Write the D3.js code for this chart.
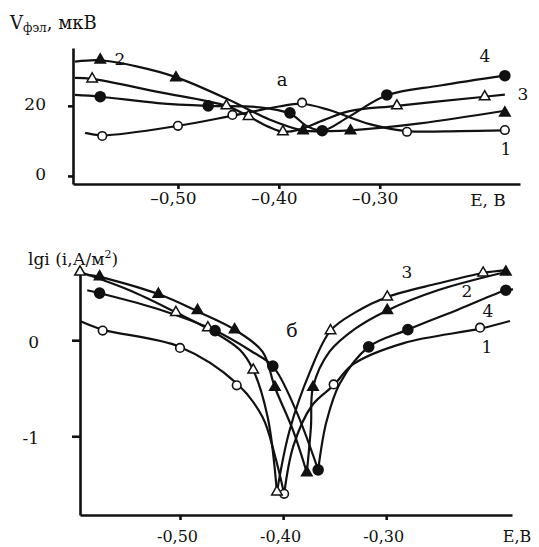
<!DOCTYPE html>
<html>
<head>
<meta charset="utf-8">
<script src="https://cdn.jsdelivr.net/npm/d3@7"></script>
<style>
  body { margin: 0; background: #fff; }
  svg text { font-family: "DejaVu Serif", "Liberation Serif", serif; fill: #111; }
  .axis path, .axis line { stroke: #111; stroke-width: 2.6; }
  .curve { fill: none; stroke: #111; stroke-width: 2.2; }
</style>
</head>
<body>
<svg width="539" height="547"></svg>
<script>
// panel a: photo-EMF V (mkV) vs E (V)
const topCurve1 = [[-0.592,12.3],[-0.575,11.6],[-0.50,14.3],[-0.446,17.2],[-0.40,19.8],[-0.377,20.6],[-0.35,18.8],[-0.31,14.8],[-0.273,12.8],[-0.22,12.8],[-0.176,13.0]];
const topMarks1 = [[-0.575,11.4],[-0.50,14.3],[-0.446,17.4],[-0.377,20.9],[-0.273,12.6],[-0.176,13.1]];
const topCurve2 = [[-0.602,32.6],[-0.577,33.0],[-0.54,31.2],[-0.502,28.2],[-0.45,21.8],[-0.41,16.2],[-0.376,13.0],[-0.35,12.8],[-0.329,13.0],[-0.26,15.0],[-0.176,18.6]];
const topMarks2 = [[-0.577,33.1],[-0.502,28.0],[-0.376,12.9],[-0.329,12.9],[-0.176,18.0]];
const topCurve3 = [[-0.602,28.0],[-0.585,27.7],[-0.52,24.0],[-0.452,20.0],[-0.43,17.0],[-0.41,14.0],[-0.396,12.6],[-0.38,13.2],[-0.355,16.0],[-0.33,18.5],[-0.283,20.0],[-0.196,22.6],[-0.176,23.2]];
const topMarks3 = [[-0.585,27.7],[-0.452,20.0],[-0.43,17.0],[-0.396,12.6],[-0.283,20.0],[-0.196,22.6]];
const topCurve4 = [[-0.602,23.1],[-0.577,22.6],[-0.52,20.8],[-0.47,20.0],[-0.42,19.6],[-0.389,17.8],[-0.372,14.2],[-0.357,12.9],[-0.33,17.0],[-0.293,23.0],[-0.24,25.8],[-0.176,28.6]];
const topMarks4 = [[-0.577,22.6],[-0.47,20.0],[-0.389,18.0],[-0.357,12.9],[-0.293,23.1],[-0.176,28.6]];

// panel b: lg i vs E (V)
const botCurve1 = [[-0.597,0.20],[-0.575,0.11],[-0.50,-0.07],[-0.445,-0.45],[-0.42,-0.80],[-0.408,-1.20],[-0.399,-1.60],[-0.39,-1.10],[-0.372,-0.68],[-0.351,-0.47],[-0.332,-0.25],[-0.283,-0.03],[-0.209,0.12],[-0.18,0.20]];
const botMarks1 = [[-0.575,0.10],[-0.50,-0.08],[-0.445,-0.47],[-0.399,-1.60],[-0.351,-0.46],[-0.209,0.13]];
const botCurve2 = [[-0.590,0.68],[-0.578,0.66],[-0.521,0.48],[-0.483,0.30],[-0.447,0.11],[-0.42,-0.12],[-0.408,-0.49],[-0.39,-0.95],[-0.377,-1.38],[-0.373,-0.90],[-0.371,-0.49],[-0.355,-0.12],[-0.33,0.12],[-0.299,0.31],[-0.25,0.52],[-0.184,0.71]];
const botMarks2 = [[-0.578,0.66],[-0.521,0.48],[-0.483,0.31],[-0.447,0.11],[-0.408,-0.49],[-0.377,-1.38],[-0.371,-0.49],[-0.299,0.31],[-0.184,0.71]];
const botCurve3 = [[-0.597,0.71],[-0.549,0.52],[-0.504,0.29],[-0.473,0.12],[-0.442,-0.10],[-0.429,-0.31],[-0.415,-0.80],[-0.406,-1.58],[-0.394,-0.95],[-0.374,-0.33],[-0.354,0.10],[-0.33,0.29],[-0.299,0.45],[-0.25,0.59],[-0.206,0.70],[-0.184,0.73]];
const botMarks3 = [[-0.597,0.71],[-0.504,0.29],[-0.473,0.13],[-0.429,-0.31],[-0.406,-1.58],[-0.354,0.10],[-0.299,0.45],[-0.206,0.70]];
const botCurve4 = [[-0.590,0.52],[-0.578,0.49],[-0.52,0.32],[-0.466,0.10],[-0.43,-0.12],[-0.410,-0.27],[-0.388,-0.72],[-0.366,-1.35],[-0.358,-0.85],[-0.345,-0.45],[-0.317,-0.07],[-0.279,0.11],[-0.23,0.32],[-0.184,0.52],[-0.177,0.53]];
const botMarks4 = [[-0.578,0.49],[-0.466,0.10],[-0.410,-0.27],[-0.366,-1.35],[-0.317,-0.07],[-0.279,0.11],[-0.184,0.52]];

const topXTicks = [-0.5, -0.4, -0.3];
const topYTicks = [0, 20];
const botXTicks = [-0.5, -0.4, -0.3];
const botYTicks = [0, -1];

const markerKinds = ["openCircle", "filledTriangle", "openTriangle", "filledCircle"];

const svg = d3.select("svg");

const xTop = d3.scaleLinear().domain([-0.604, -0.161]).range([73, 520]);
const yTop = d3.scaleLinear().domain([-2.3, 36.5]).range([184, 48]);
const xBot = d3.scaleLinear().domain([-0.597, -0.178]).range([80, 512]);
const yBot = d3.scaleLinear().domain([-1.82, 0.71]).range([515, 272]);

function fmt(dash) {
  return d => d === 0 ? "0" : dash + Math.abs(d).toFixed(2).replace(".", ",");
}
const intFmt = d => d < 0 ? "-" + Math.abs(d) : String(d);

// axes, panel a
svg.append("g").attr("class", "axis").attr("transform", "translate(0,184)")
  .call(d3.axisBottom(xTop).tickValues(topXTicks).tickSize(5).tickSizeOuter(0).tickPadding(3).tickFormat(fmt("–")))
  .call(g => g.selectAll("text").attr("font-size", 17).attr("dx", -5).style("font-family", "DejaVu Serif"));
svg.append("g").attr("class", "axis").attr("transform", "translate(73,0)")
  .call(d3.axisLeft(yTop).tickValues(topYTicks).tickSize(5).tickSizeOuter(0).tickPadding(22).tickFormat(intFmt))
  .call(g => g.selectAll("text").attr("font-size", 17).attr("dy", "0.2em").style("font-family", "DejaVu Serif"));

// axes, panel b
svg.append("g").attr("class", "axis").attr("transform", "translate(0,515)")
  .call(d3.axisBottom(xBot).tickValues(botXTicks).tickSize(5).tickSizeOuter(0).tickPadding(11).tickFormat(fmt("-")))
  .call(g => g.selectAll("text").attr("font-size", 16).attr("dx", -3).style("font-family", "DejaVu Serif"));
svg.append("g").attr("class", "axis").attr("transform", "translate(80,0)")
  .call(d3.axisLeft(yBot).tickValues(botYTicks).tickSize(8).tickSizeOuter(0).tickPadding(33).tickFormat(intFmt))
  .call(g => g.selectAll("text").attr("font-size", 17).attr("dy", "0.4em").style("font-family", "DejaVu Serif"));

svg.selectAll(".axis").attr("font-family", null);

function drawCurve(points, x, y, splitAtMin) {
  const line = d3.line().x(d => x(d[0])).y(d => y(d[1])).curve(d3.curveCatmullRom.alpha(0.5));
  if (splitAtMin) {
    const i = d3.minIndex(points, d => d[1]);
    [points.slice(0, i + 1), points.slice(i)].forEach(p =>
      svg.append("path").attr("class", "curve").attr("d", line(p)));
  } else {
    svg.append("path").attr("class", "curve").attr("d", line(points));
  }
}

function drawMarks(points, x, y, kind) {
  const g = svg.append("g");
  points.forEach(d => {
    const cx = x(d[0]), cy = y(d[1]);
    if (kind === "openCircle" || kind === "filledCircle") {
      g.append("circle").attr("cx", cx).attr("cy", cy)
        .attr("r", kind === "openCircle" ? 4.3 : 5)
        .attr("fill", kind === "openCircle" ? "#fff" : "#111")
        .attr("stroke", "#111").attr("stroke-width", 1.6);
    } else {
      g.append("path")
        .attr("d", d3.symbol(d3.symbolTriangle, 48)())
        .attr("transform", `translate(${cx},${cy})`)
        .attr("fill", kind === "openTriangle" ? "#fff" : "#111")
        .attr("stroke", "#111").attr("stroke-width", 1.5);
    }
  });
}

const topCurves = [topCurve1, topCurve2, topCurve3, topCurve4];
const topMarks = [topMarks1, topMarks2, topMarks3, topMarks4];
const botCurves = [botCurve1, botCurve2, botCurve3, botCurve4];
const botMarks = [botMarks1, botMarks2, botMarks3, botMarks4];

topCurves.forEach(c => drawCurve(c, xTop, yTop, false));
botCurves.forEach(c => drawCurve(c, xBot, yBot, true));
topMarks.forEach((m, i) => drawMarks(m, xTop, yTop, markerKinds[i]));
botMarks.forEach((m, i) => drawMarks(m, xBot, yBot, markerKinds[i]));

// titles and labels
const t1 = svg.append("text").attr("x", 10).attr("y", 29).attr("font-size", 18);
t1.append("tspan").text("V");
t1.append("tspan").attr("font-size", 12).attr("dy", 3).text("фэл");
t1.append("tspan").attr("dy", -3).text(", мкВ");

const t2 = svg.append("text").attr("x", 28).attr("y", 265).attr("font-size", 17);
t2.append("tspan").text("lgi (i,А/м");
t2.append("tspan").attr("font-size", 11).attr("dy", -7).text("2");
t2.append("tspan").attr("dy", 7).text(")");

const labels = [
  ["E, B", 488, 206, 17], ["E,B", 517, 542, 16],
  ["а", 282, 86, 18], ["б", 292, 337, 19],
  ["2", 120, 65, 17], ["4", 485, 62, 17], ["3", 523, 100, 17], ["1", 506, 155, 17],
  ["3", 407, 278, 17], ["2", 467, 297, 17], ["4", 488, 317, 17], ["1", 487, 353, 17]
];
labels.forEach(([s, x, y, fs]) =>
  svg.append("text").attr("x", x).attr("y", y).attr("font-size", fs).attr("text-anchor", "middle").text(s));
</script>
</body>
</html>
